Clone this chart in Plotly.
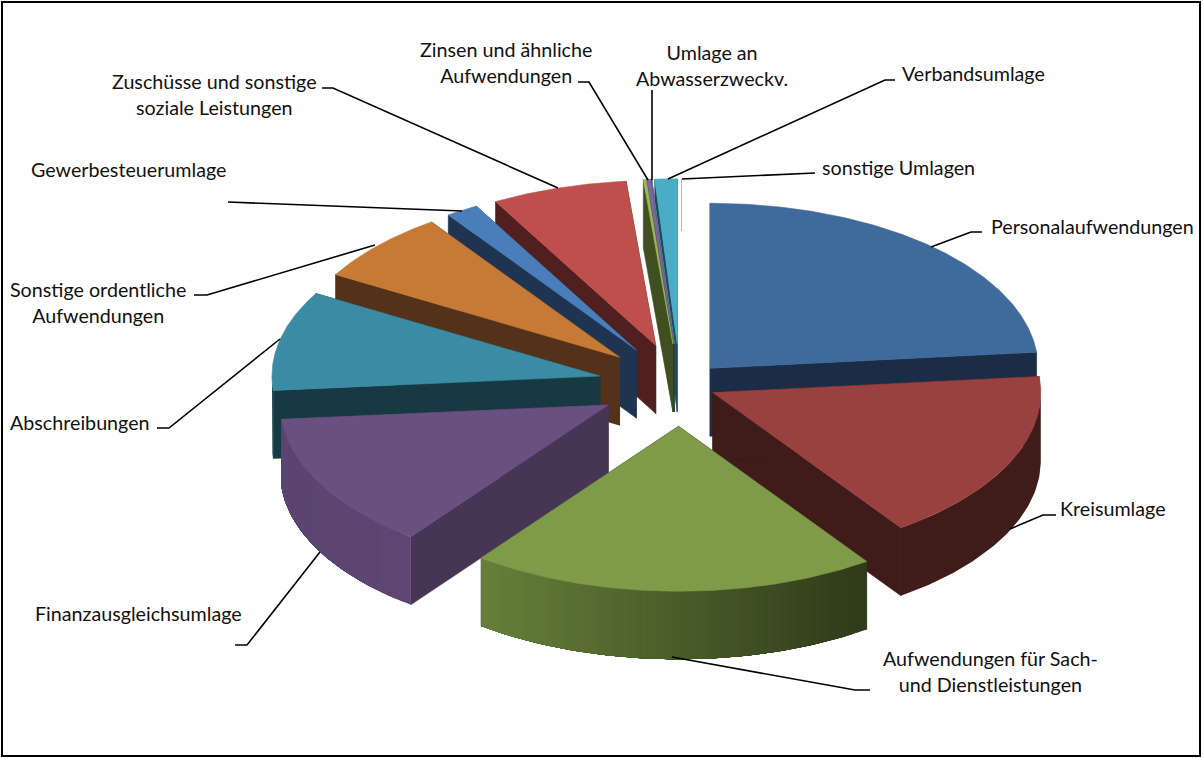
import numpy as np
import plotly.graph_objects as go

# Data: shares (percent)
categories = ["Personalaufwendungen", "Kreisumlage", "Aufwendungen für Sach- und Dienstleistungen",
              "Finanzausgleichsumlage", "Abschreibungen", "Sonstige ordentliche Aufwendungen",
              "Gewerbesteuerumlage", "Zuschüsse und sonstige soziale Leistungen",
              "Zinsen und ähnliche Aufwendungen", "Umlage an Abwasserzweckv.", "Verbandsumlage", "sonstige Umlagen"]
values = [23.44, 16.83, 20.00, 13.33, 9.72, 6.94, 1.60, 6.68, 0.14, 0.19, 0.02, 1.09]
explode = [0.137, 0.11, 0.25, 0.25, 0.25, 0.25, 0.25, 0.25, 0.25, 0.25, 0.25, 0.25]
top_colors = ["#3F6A9C", "#994040", "#7F9A49", "#6A5080", "#3B8BA5", "#C77A35", "#4A7EBB", "#BE4F4C",
              "#9BBB59", "#8064A2", "#4BACC6", "#4BACC6"]
face_colors = ["#1B2D46", "#3F1B19", "#33401C", "#463555", "#173A42", "#54321A", "#1E3450", "#4F201F",
               "#3F4F22", "#352A45", "#1D4A56", "#1D4A56"]
wall_left = ["#1B2D46", "#3F1B19", "#66803A", "#5A4470", "#173A42", "#54321A", "#1E3450", "#4F201F",
             "#3F4F22", "#352A45", "#1D4A56", "#1D4A56"]
wall_right = ["#1B2D46", "#3F1B19", "#2E3A19", "#5E4672", "#173A42", "#54321A", "#1E3450", "#4F201F",
              "#3F4F22", "#352A45", "#1D4A56", "#1D4A56"]
draw_order = [11, 10, 9, 8, 7, 6, 5, 4, 0, 3, 1, 2]

label_texts = ["Personalaufwendungen", "Kreisumlage", "Aufwendungen für Sach-<br>und Dienstleistungen",
               "Finanzausgleichsumlage", "Abschreibungen", "Sonstige ordentliche<br>Aufwendungen",
               "Gewerbesteuerumlage", "Zuschüsse und sonstige<br>soziale Leistungen",
               "Zinsen und ähnliche<br>Aufwendungen", "Umlage an<br>Abwasserzweckv.", "Verbandsumlage", "sonstige Umlagen"]
label_x = [1092, 1113, 990, 138, 80, 98, 128, 214, 506, 712, 973, 898]
label_y = [226, 508, 671, 613, 422, 302, 169, 94, 62, 65, 73, 167]
leaders = [
    [(982, 232), (971, 232), (931, 247)],
    [(1056, 515), (1043, 515), (1010, 529)],
    [(870, 690), (855, 690), (672, 657)],
    [(235, 645), (247, 645), (320, 552)],
    [(157, 428), (169, 428), (280, 339)],
    [(194, 295), (207, 295), (375, 245)],
    [(228, 202), (462, 211)],
    [(322, 88), (333, 88), (558, 188)],
    [(578, 82), (589, 82), (648, 180)],
    [(652, 90), (652, 180)],
    [(895, 80), (885, 80), (668, 179)],
    [(815, 173), (682, 179)],
]

CX, CY, RX, RY, DEPTH = 680.0, 385.0, 328.0, 165.0, 68.0


def hex2rgb(h):
    return np.array([int(h[i:i + 2], 16) for i in (1, 3, 5)], float)


def mix(a, b, f):
    c = hex2rgb(a) * (1 - f) + hex2rgb(b) * f
    return "rgb(%d,%d,%d)" % tuple(c.round())


fig = go.Figure()


def poly(xs, ys, color, name, lw=0.6):
    fig.add_trace(go.Scatter(x=list(xs), y=list(ys), mode="lines", fill="toself", fillcolor=color,
                             line=dict(color=color, width=lw), hoverinfo="text", text=name, showlegend=False))


edges = np.concatenate([[0], np.cumsum(values)]) / sum(values) * 2 * np.pi

for i in draw_order:
    t0, t1 = edges[i], edges[i + 1]
    mid = (t0 + t1) / 2
    ax = CX + explode[i] * RX * np.sin(mid)
    ay = CY - explode[i] * RY * np.cos(mid)
    ex = lambda t: ax + RX * np.sin(t)
    ey = lambda t: ay - RY * np.cos(t)
    name = categories[i]
    for t in (t1, t0):
        poly([ax, ex(t), ex(t), ax, ax], [ay, ey(t), ey(t) + DEPTH, ay + DEPTH, ay], face_colors[i], name)
    lo, hi = max(t0, np.pi / 2), min(t1, 3 * np.pi / 2)
    if hi > lo:
        uniform = wall_left[i] == wall_right[i]
        n = 1 if uniform else max(2, int(np.degrees(hi - lo) / 1.5))
        g = np.linspace(lo, hi, n + 1)
        xmin, xmax = ex(g).min(), ex(g).max()
        # each strip runs to the far end of the wall and the next one paints over it, so no seams show
        for a, b in zip(g[:-1], g[1:]):
            f = ((ex(a) + ex(b)) / 2 - xmin) / max(xmax - xmin, 1)
            s = np.linspace(a, hi, max(3, int(np.degrees(hi - a))))
            xs = np.concatenate([ex(s), ex(s)[::-1]])
            ys = np.concatenate([ey(s), ey(s)[::-1] + DEPTH])
            poly(xs, ys, mix(wall_left[i], wall_right[i], f), name, lw=0)
    s = np.linspace(t0, t1, max(3, int(np.degrees(t1 - t0) * 2)))
    poly(np.r_[ax, ex(s), ax], np.r_[ay, ey(s), ay], top_colors[i], name)

for pts in leaders:
    fig.add_trace(go.Scatter(x=[p[0] for p in pts], y=[p[1] for p in pts], mode="lines",
                             line=dict(color="black", width=1.6), hoverinfo="skip", showlegend=False))
fig.add_trace(go.Scatter(x=[681.5, 681.5], y=[179, 231], mode="lines", line=dict(color="#E9A77C", width=1),
                         hoverinfo="skip", showlegend=False))

for txt, x, y in zip(label_texts, label_x, label_y):
    fig.add_annotation(x=x, y=y, text=txt, showarrow=False, xanchor="center", yanchor="middle",
                       align="center", font=dict(family="Lato", size=19.7, color="#111111"))

fig.add_shape(type="rect", x0=2, y0=2, x1=1200, y1=756, line=dict(color="black", width=2), layer="above")
fig.update_layout(width=1203, height=758, margin=dict(l=0, r=0, t=0, b=0), paper_bgcolor="white",
                  plot_bgcolor="white", showlegend=False,
                  xaxis=dict(range=[0, 1203], visible=False, fixedrange=True),
                  yaxis=dict(range=[758, 0], visible=False, fixedrange=True))
fig.write_html("out.html", config=dict(displayModeBar=False),
               post_script="document.body.style.margin='0';")
